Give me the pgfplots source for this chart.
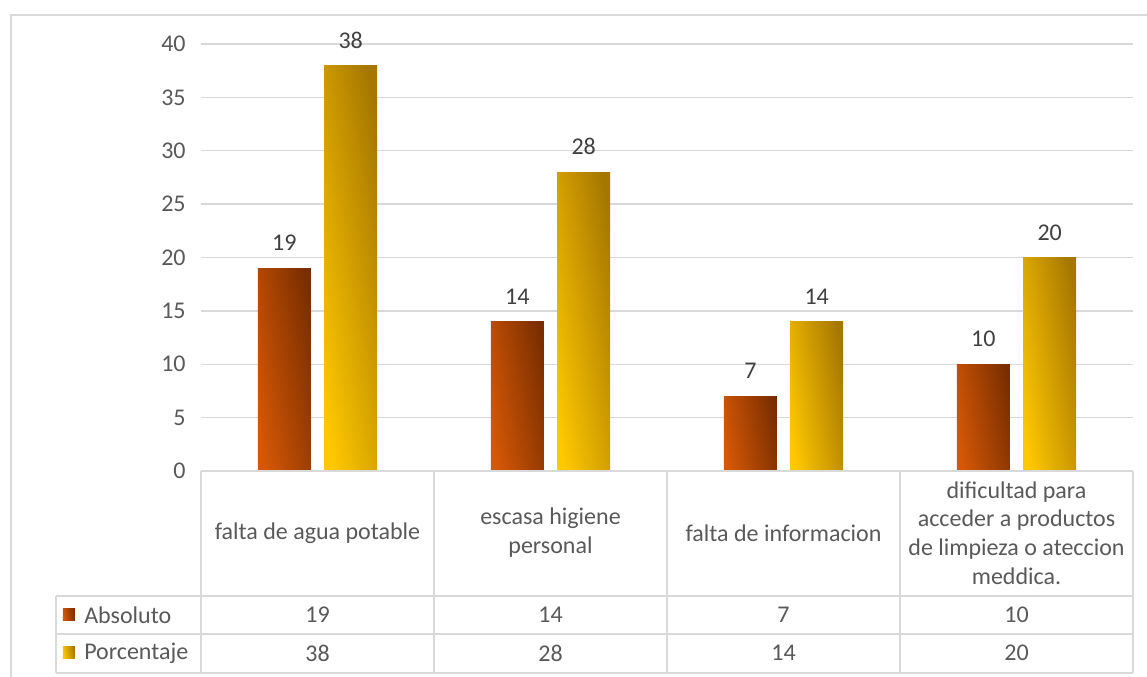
\documentclass[border=0pt]{standalone}
\usepackage{pgfplots}
\pgfplotsset{compat=1.18}
\usepackage{fontspec}
\setmainfont{Carlito}

\definecolor{absL}{RGB}{214,88,6}
\definecolor{absD}{RGB}{122,46,0}
\definecolor{porL}{RGB}{255,200,0}
\definecolor{porD}{RGB}{165,118,0}
\definecolor{gridc}{RGB}{217,217,217}
\definecolor{txt}{RGB}{89,89,89}
\definecolor{lbl}{RGB}{64,64,64}

\tikzset{
  absfill/.style={left color=absL, right color=absD, shading angle=100},
  porfill/.style={left color=porL, right color=porD, shading angle=100},
}
% one \addplot per bar so that every bar gets its own gradient
\pgfplotsset{
  absbar/.style={ybar, bar width=39.75pt, bar shift=-24.875pt, draw=none, absfill,
    every node near coord/.append style={xshift=-24.875pt}},
  porbar/.style={ybar, bar width=39.75pt, bar shift=24.875pt, draw=none, porfill,
    every node near coord/.append style={xshift=24.875pt}},
}

\begin{document}
\begin{tikzpicture}[x=1pt,y=1pt,font=\fontsize{18}{21.6}\selectfont]
\useasboundingbox (-150.75,-154.5) rectangle (709.5,353.25);
% outer chart frame
\draw[gridc, line width=1.2pt] (-142.5,-170) -- (-142.5,342) -- (720,342);

\begin{axis}[
    at={(0pt,0pt)}, anchor=south west,
    scale only axis,
    width=699pt, height=320.25pt,
    xmin=-0.5, xmax=3.5,
    ymin=0, ymax=40,
    ytick={0,5,...,40},
    xtick=\empty,
    ymajorgrids,
    grid style={gridc, line width=1pt},
    axis line style={draw=none},
    major tick length=0pt,
    /pgf/number format/assume math mode=true,
    yticklabel style={font=\fontsize{18}{21.6}\selectfont, text=txt, xshift=-8pt},
    nodes near coords,
    every node near coord/.append style={font=\fontsize{18}{21.6}\selectfont,
        text=lbl, anchor=base, inner sep=0pt, yshift=13pt},
    clip=false,
]
% Absoluto
\addplot[absbar] coordinates {(0,19)};
\addplot[absbar] coordinates {(1,14)};
\addplot[absbar] coordinates {(2,7)};
\addplot[absbar] coordinates {(3,10)};
% Porcentaje
\addplot[porbar] coordinates {(0,38)};
\addplot[porbar] coordinates {(1,28)};
\addplot[porbar] coordinates {(2,14)};
\addplot[porbar] coordinates {(3,20)};
\end{axis}

% data table
\begin{scope}[gridc, line width=1pt]
\draw (0,0) -- (699,0);
\foreach \x in {0,174.75,349.5,524.25,699} \draw (\x,0) -- (\x,-151.5);
\draw (-108.75,-93.75) -- (699,-93.75);
\draw (-108.75,-122.25) -- (699,-122.25);
\draw (-108.75,-151.5) -- (699,-151.5);
\draw (-108.75,-93.75) -- (-108.75,-151.5);
\end{scope}

\begin{scope}[text=txt]
\node[align=center] at (87.375,-46.5) {falta de agua potable};
\node[align=center] at (262.125,-46.5) {escasa higiene\\personal};
\node[align=center] at (436.875,-46.5) {falta de informacion};
\node[align=center] at (611.625,-46.5) {dificultad para\\acceder a productos\\de limpieza o ateccion\\meddica.};

\foreach \v [count=\i from 0] in {19,14,7,10}
  \node at (87.375+\i*174.75,-108) {\v};
\foreach \v [count=\i from 0] in {38,28,14,20}
  \node at (87.375+\i*174.75,-136.5) {\v};

\fill[absfill] (-103.5,-112.5) rectangle (-94.5,-103.5);
\node[anchor=west, inner sep=0pt] at (-87.75,-108) {Absoluto};
\fill[porfill] (-103.5,-141) rectangle (-94.5,-132);
\node[anchor=west, inner sep=0pt] at (-87.75,-136.5) {Porcentaje};
\end{scope}
\end{tikzpicture}
\end{document}
